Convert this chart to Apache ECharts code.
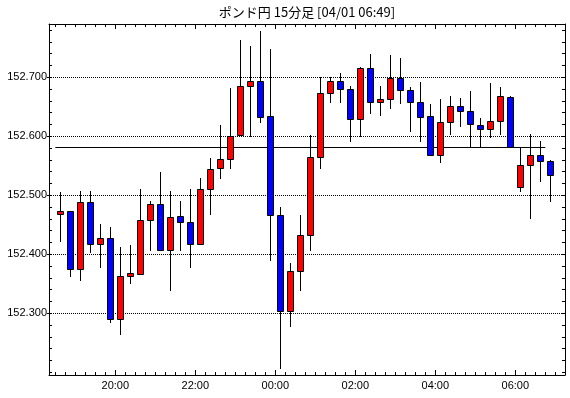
<!DOCTYPE html>
<html>
<head>
<meta charset="utf-8">
<script src="https://cdn.jsdelivr.net/npm/echarts@6/dist/echarts.min.js"></script>
<style>
html,body{margin:0;padding:0;background:#fff;}
#chart{width:570px;height:398px;}
</style>
</head>
<body>
<div id="chart"></div>
<script>
// ---- data ----
const titleText = 'ポンド円 15分足 [04/01 06:49]';
const times = ['18:30','18:45','19:00','19:15','19:30','19:45','20:00','20:15','20:30','20:45',
  '21:00','21:15','21:30','21:45','22:00','22:15','22:30','22:45','23:00','23:15',
  '23:30','23:45','00:00','00:15','00:30','00:45','01:00','01:15','01:30','01:45',
  '02:00','02:15','02:30','02:45','03:00','03:15','03:30','03:45','04:00','04:15',
  '04:30','04:45','05:00','05:15','05:30','05:45','06:00','06:15','06:30','06:45'];
const opens  = [152.468,152.473,152.375,152.488,152.417,152.427,152.290,152.363,152.366,152.458,
  152.485,152.407,152.464,152.454,152.417,152.510,152.546,152.561,152.601,152.685,
  152.692,152.634,152.466,152.303,152.371,152.432,152.564,152.673,152.692,152.680,
  152.629,152.715,152.658,152.663,152.698,152.678,152.658,152.634,152.568,152.624,
  152.651,152.642,152.619,152.612,152.625,152.666,152.514,152.551,152.568,152.558];
const closes = [152.473,152.375,152.488,152.417,152.427,152.289,152.363,152.367,152.458,152.485,
  152.407,152.463,152.454,152.417,152.510,152.544,152.561,152.600,152.685,152.692,
  152.632,152.466,152.303,152.371,152.432,152.564,152.673,152.692,152.679,152.629,
  152.715,152.658,152.663,152.698,152.678,152.658,152.632,152.568,152.624,152.651,
  152.642,152.620,152.612,152.625,152.668,152.581,152.551,152.568,152.558,152.534];
const lows   = [152.420,152.362,152.355,152.403,152.376,152.283,152.263,152.349,152.365,152.406,
  152.405,152.338,152.405,152.376,152.415,152.467,152.527,152.545,152.600,152.598,
  152.623,152.389,152.206,152.277,152.337,152.405,152.544,152.657,152.657,152.591,
  152.599,152.638,152.635,152.647,152.654,152.608,152.591,152.568,152.554,152.603,
  152.615,152.580,152.581,152.597,152.602,152.580,152.505,152.459,152.523,152.489];
const highs  = [152.506,152.474,152.507,152.507,152.451,152.446,152.412,152.416,152.511,152.490,
  152.540,152.507,152.490,152.511,152.529,152.563,152.619,152.681,152.763,152.753,
  152.779,152.748,152.480,152.385,152.467,152.602,152.700,152.700,152.707,152.685,
  152.717,152.740,152.685,152.738,152.733,152.683,152.692,152.655,152.663,152.668,
  152.665,152.677,152.631,152.690,152.684,152.668,152.581,152.604,152.592,152.560];
const refLevel = 152.581;
const yLabels = [152.300, 152.400, 152.500, 152.600, 152.700];
const yMinorTicks = [152.20,152.22,152.24,152.26,152.28,152.30,152.32,152.34,152.36,152.38,
  152.40,152.42,152.44,152.46,152.48,152.50,152.52,152.54,152.56,152.58,
  152.60,152.62,152.64,152.66,152.68,152.70,152.72,152.74,152.76,152.78];
const xLabels = ['20:00','22:00','00:00','02:00','04:00','06:00'];

// ---- helpers ----
function toMin(t) {
  const p = t.split(':');
  let h = +p[0];
  if (h < 18) h += 24;
  return (h - 18) * 60 + (+p[1]);
}
function fmtMin(m) {
  const h = (18 + Math.floor(m / 60)) % 24;
  const mm = m % 60;
  return String(h).padStart(2, '0') + ':' + String(mm).padStart(2, '0');
}
const candleData = times.map((t, i) => [toMin(t) + 7.5, opens[i], closes[i], lows[i], highs[i]]);
const xMajor = xLabels.map(toMin);
const xMinor = times.map(toMin).concat([toMin(times[times.length - 1]) + 15]);
const X_MIN = 20.5, X_MAX = 794.5, Y_MIN = 152.1954, Y_MAX = 152.7903;

const chart = echarts.init(document.getElementById('chart'), null, {renderer: 'canvas'});
const font = 'Liberation Sans';
const baseX = {type: 'value', min: X_MIN, max: X_MAX, gridIndex: 0, splitLine: {show: false}};
const baseY = {type: 'value', min: Y_MIN, max: Y_MAX, gridIndex: 0, scale: true};

chart.setOption({
  animation: false,
  backgroundColor: '#fff',
  graphic: [{
    type: 'text', x: 307, y: 12.5,
    style: {text: titleText, align: 'center', verticalAlign: 'middle',
      font: '13px "Noto Sans CJK JP"', fill: '#000'}
  }],
  grid: {left: 49, top: 24, width: 516, height: 351, containLabel: false},
  xAxis: [
    Object.assign({}, baseX, {position: 'bottom',
      axisLine: {show: true, lineStyle: {color: '#000', width: 1}},
      axisTick: {show: true, inside: true, length: 5, customValues: xMajor, lineStyle: {color: '#000'}},
      axisLabel: {show: true, customValues: xMajor, formatter: v => fmtMin(v), margin: 5,
        fontSize: 11, fontFamily: font, color: '#000'}}),
    Object.assign({}, baseX, {position: 'bottom',
      axisLine: {show: false},
      axisTick: {show: true, inside: true, length: 3, customValues: xMinor, lineStyle: {color: '#000'}},
      axisLabel: {show: false}}),
    Object.assign({}, baseX, {position: 'top',
      axisLine: {show: true, lineStyle: {color: '#000', width: 1}},
      axisTick: {show: true, inside: true, length: 5, customValues: xMajor, lineStyle: {color: '#000'}},
      axisLabel: {show: false}}),
    Object.assign({}, baseX, {position: 'top',
      axisLine: {show: false},
      axisTick: {show: true, inside: true, length: 3, customValues: xMinor, lineStyle: {color: '#000'}},
      axisLabel: {show: false}})
  ],
  yAxis: [
    Object.assign({}, baseY, {position: 'left',
      axisLine: {show: true, lineStyle: {color: '#000', width: 1}},
      axisTick: {show: true, inside: false, length: 2, customValues: yLabels, lineStyle: {color: '#000'}},
      axisLabel: {show: true, customValues: yLabels, formatter: v => v.toFixed(3), margin: 2,
        fontSize: 11, fontFamily: font, color: '#000'},
      splitLine: {show: true, lineStyle: {color: '#000', type: [1, 1], width: 1}}}),
    Object.assign({}, baseY, {position: 'left',
      axisLine: {show: false},
      axisTick: {show: true, inside: true, length: 3, customValues: yMinorTicks, lineStyle: {color: '#000'}},
      axisLabel: {show: false}, splitLine: {show: false}}),
    Object.assign({}, baseY, {position: 'right',
      axisLine: {show: true, lineStyle: {color: '#000', width: 1}},
      axisTick: {show: true, inside: true, length: 3, customValues: yMinorTicks, lineStyle: {color: '#000'}},
      axisLabel: {show: false}, splitLine: {show: false}})
  ],
  series: [
    {
      type: 'line', xAxisIndex: 0, yAxisIndex: 0, silent: true, symbol: 'none',
      data: [[toMin(times[0]), refLevel], [toMin(times[times.length - 1]), refLevel]],
      lineStyle: {color: '#000', width: 1}, z: 1
    },
    {
      type: 'custom', xAxisIndex: 0, yAxisIndex: 0, z: 3,
      data: candleData,
      renderItem: function (params, api) {
        const x = api.value(0), o = api.value(1), c = api.value(2), l = api.value(3), h = api.value(4);
        const pO = api.coord([x, o]), pC = api.coord([x, c]);
        const pL = api.coord([x, l]), pH = api.coord([x, h]);
        const cx = Math.round(pO[0] - 0.5) + 0.5;
        const top = Math.round(Math.min(pO[1], pC[1]) - 0.5) + 0.5;
        const bot = Math.round(Math.max(pO[1], pC[1]) - 0.5) + 0.5;
        const up = c >= o;
        return {
          type: 'group',
          children: [
            {type: 'line', shape: {x1: cx, y1: Math.round(pH[1]), x2: cx, y2: Math.round(pL[1])},
              style: {stroke: '#000', lineWidth: 1}},
            {type: 'rect', shape: {x: cx - 3, y: top, width: 6, height: Math.max(bot - top, 1)},
              style: {fill: up ? '#ff0000' : '#0000ff', stroke: '#000', lineWidth: 1}}
          ]
        };
      }
    }
  ]
});
</script>
</body>
</html>
